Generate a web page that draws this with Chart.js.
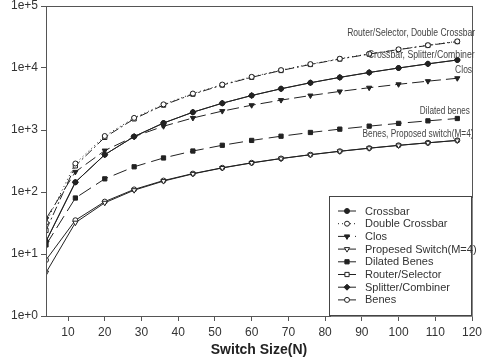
<!DOCTYPE html>
<html>
<head>
<meta charset="utf-8">
<script src="https://cdn.jsdelivr.net/npm/chart.js@4.4.1/dist/chart.umd.min.js"></script>
<style>
  html, body { margin: 0; padding: 0; background: #fff; }
  canvas { display: block; }
</style>
</head>
<body>
<canvas id="switchChart" width="492" height="364"></canvas>
<script>
// switch sizes N
var sizes = [4, 12, 20, 28, 36, 44, 52, 60, 68, 76, 84, 92, 100, 108, 116];

// crosspoint counts
var crossbar       = [16, 144, 400, 784, 1296, 1936, 2704, 3600, 4624, 5776, 7056, 8464, 10000, 11664, 13456];
var doubleCrossbar = [32, 288, 800, 1568, 2592, 3872, 5408, 7200, 9248, 11552, 14112, 16928, 20000, 23328, 26912];
var clos           = [37, 211, 466, 782, 1150, 1563, 2017, 2509, 3036, 3596, 4187, 4808, 5457, 6133, 6836];
var proposed       = [5, 32, 67, 107, 150, 196, 244, 294, 346, 399, 453, 508, 564, 621, 679];
var dilatedBenes   = [14, 80, 163, 255, 354, 458, 567, 679, 794, 912, 1032, 1154, 1279, 1405, 1533];
var routerSelector = [24, 264, 760, 1512, 2520, 3784, 5304, 7080, 9112, 11400, 13944, 16744, 19800, 23112, 26680];
var splitter       = [16, 144, 400, 784, 1296, 1936, 2704, 3600, 4624, 5776, 7056, 8464, 10000, 11664, 13456];
var benes          = [8, 35, 70, 110, 153, 198, 246, 296, 347, 400, 455, 510, 566, 622, 680];

var xTicks = [10, 20, 30, 40, 50, 60, 70, 80, 90, 100, 110, 120];
var yTicks = [1, 10, 100, 1000, 10000, 100000];

// curve labels written on the plot: text, x value, y value, squeezed width
var noteText  = ["Router/Selector, Double Crossbar", "Crossbar, Splitter/Combiner", "Clos", "Dilated benes", "Benes, Proposed switch(M=4)"];
var noteX     = [86, 91.6, 115.4, 105.8, 90.2];
var noteY     = [35700, 16200, 9040, 2024, 853];
var noteWidth = [128, 107, 17, 50, 111];

var INK = '#222';

function pts(arr) {
    return arr.map(function (v, i) { return { x: sizes[i], y: v }; });
}

function series(label, data, style, filled, dash, legendDash, rot) {
    return {
        label: label,
        data: pts(data),
        borderColor: INK,
        borderWidth: 1,
        borderDash: dash,
        legendDash: legendDash,
        pointStyle: style,
        rotation: rot || 0,
        pointRadius: style === 'circle' ? 2.5 : 3,
        pointBorderWidth: 1,
        pointBorderColor: INK,
        pointBackgroundColor: filled ? INK : '#fff',
        fill: false,
        tension: 0
    };
}

var datasets = [
    series('Crossbar', crossbar, 'circle', true, [], []),
    series('Double Crossbar', doubleCrossbar, 'circle', false, [1, 3], [1, 3]),
    series('Clos', clos, 'triangle', true, [12, 5], [12, 5], 180),
    series('Propesed Switch(M=4)', proposed, 'triangle', false, [], [], 180),
    series('Dilated Benes', dilatedBenes, 'rect', true, [14, 6], []),
    series('Router/Selector', routerSelector, 'rect', false, [9, 3, 2, 3], []),
    series('Splitter/Combiner', splitter, 'rectRot', true, [], []),
    series('Benes', benes, 'circle', false, [], [])
];

var frameAndNotes = {
    id: 'frameAndNotes',
    afterDatasetsDraw: function (chart) {
        var ctx = chart.ctx, a = chart.chartArea;
        var xs = chart.scales.x, ys = chart.scales.y;
        ctx.save();
        ctx.strokeStyle = '#555';
        ctx.lineWidth = 1;
        ctx.strokeRect(a.left + 0.5, a.top + 0.5, a.right - a.left, a.bottom - a.top);

        // curve labels
        ctx.beginPath();
        ctx.rect(a.left, a.top, a.right - a.left + 3, a.bottom - a.top);
        ctx.clip();
        ctx.fillStyle = '#444';
        ctx.font = '10px "Liberation Sans", Arial, sans-serif';
        ctx.textBaseline = 'middle';
        ctx.textAlign = 'left';
        noteText.forEach(function (t, i) {
            ctx.fillText(t, xs.getPixelForValue(noteX[i]), ys.getPixelForValue(noteY[i]), noteWidth[i]);
        });
        ctx.restore();

        // legend box, lower right inside the plot
        var w = 142, h = 119;
        var bx = a.right - w - 1, by = a.bottom - h - 1;
        ctx.save();
        ctx.fillStyle = '#fff';
        ctx.fillRect(bx, by, w, h);
        ctx.strokeStyle = '#444';
        ctx.lineWidth = 1;
        ctx.strokeRect(bx + 0.5, by + 0.5, w, h);
        ctx.strokeStyle = '#888';
        ctx.beginPath();
        ctx.moveTo(bx + 2, by + h + 1.5);
        ctx.lineTo(bx + w + 1.5, by + h + 1.5);
        ctx.lineTo(bx + w + 1.5, by + 2);
        ctx.stroke();

        ctx.font = '11px "Liberation Sans", Arial, sans-serif';
        ctx.textBaseline = 'middle';
        ctx.textAlign = 'left';
        chart.data.datasets.forEach(function (ds, i) {
            var y = by + 15 + i * 12.7;
            ctx.strokeStyle = INK;
            ctx.lineWidth = 1;
            ctx.setLineDash(ds.legendDash);
            ctx.beginPath();
            ctx.moveTo(bx + 9, y);
            ctx.lineTo(bx + 27, y);
            ctx.stroke();
            ctx.setLineDash([]);
            ctx.fillStyle = ds.pointBackgroundColor;
            Chart.helpers.drawPoint(ctx, {
                pointStyle: ds.pointStyle,
                radius: ds.pointRadius,
                rotation: ds.rotation,
                borderWidth: 1
            }, bx + 18, y);
            ctx.fillStyle = '#333';
            ctx.fillText(ds.label, bx + 36, y + 0.5);
        });
        ctx.restore();
    }
};

new Chart(document.getElementById('switchChart').getContext('2d'), {
    type: 'line',
    data: { datasets: datasets },
    options: {
        responsive: false,
        animation: false,
        devicePixelRatio: 1,
        layout: { padding: { top: 0, right: 20, left: 0, bottom: 0 } },
        plugins: {
            legend: { display: false },
            tooltip: { enabled: false }
        },
        scales: {
            x: {
                type: 'linear',
                min: 4,
                max: 120,
                afterBuildTicks: function (scale) {
                    scale.ticks = xTicks.map(function (v) { return { value: v }; });
                },
                afterFit: function (scale) { scale.height = 48; },
                grid: { drawOnChartArea: false, drawTicks: true, tickLength: 5, color: '#555' },
                border: { display: true, color: '#555' },
                ticks: {
                    color: '#333',
                    padding: 4,
                    maxRotation: 0,
                    font: { family: '"Liberation Sans", Arial, sans-serif', size: 12 }
                },
                title: {
                    display: true,
                    text: 'Switch Size(N)',
                    color: '#222',
                    padding: { top: 0, bottom: 5 },
                    font: { family: '"Liberation Sans", Arial, sans-serif', size: 14, weight: 'bold' }
                }
            },
            y: {
                type: 'logarithmic',
                min: 1,
                max: 100000,
                afterBuildTicks: function (scale) {
                    scale.ticks = yTicks.map(function (v) { return { value: v }; });
                },
                afterFit: function (scale) {
                    scale.width = 46;
                    scale.paddingTop = 6;
                },
                grid: { drawOnChartArea: false, drawTicks: true, tickLength: 5, color: '#555' },
                border: { display: true, color: '#555' },
                ticks: {
                    color: '#333',
                    padding: 3,
                    font: { family: '"Liberation Sans", Arial, sans-serif', size: 12 },
                    callback: function (v) { return '1e+' + Math.round(Math.log10(v)); }
                }
            }
        }
    },
    plugins: [frameAndNotes]
});
</script>
</body>
</html>
